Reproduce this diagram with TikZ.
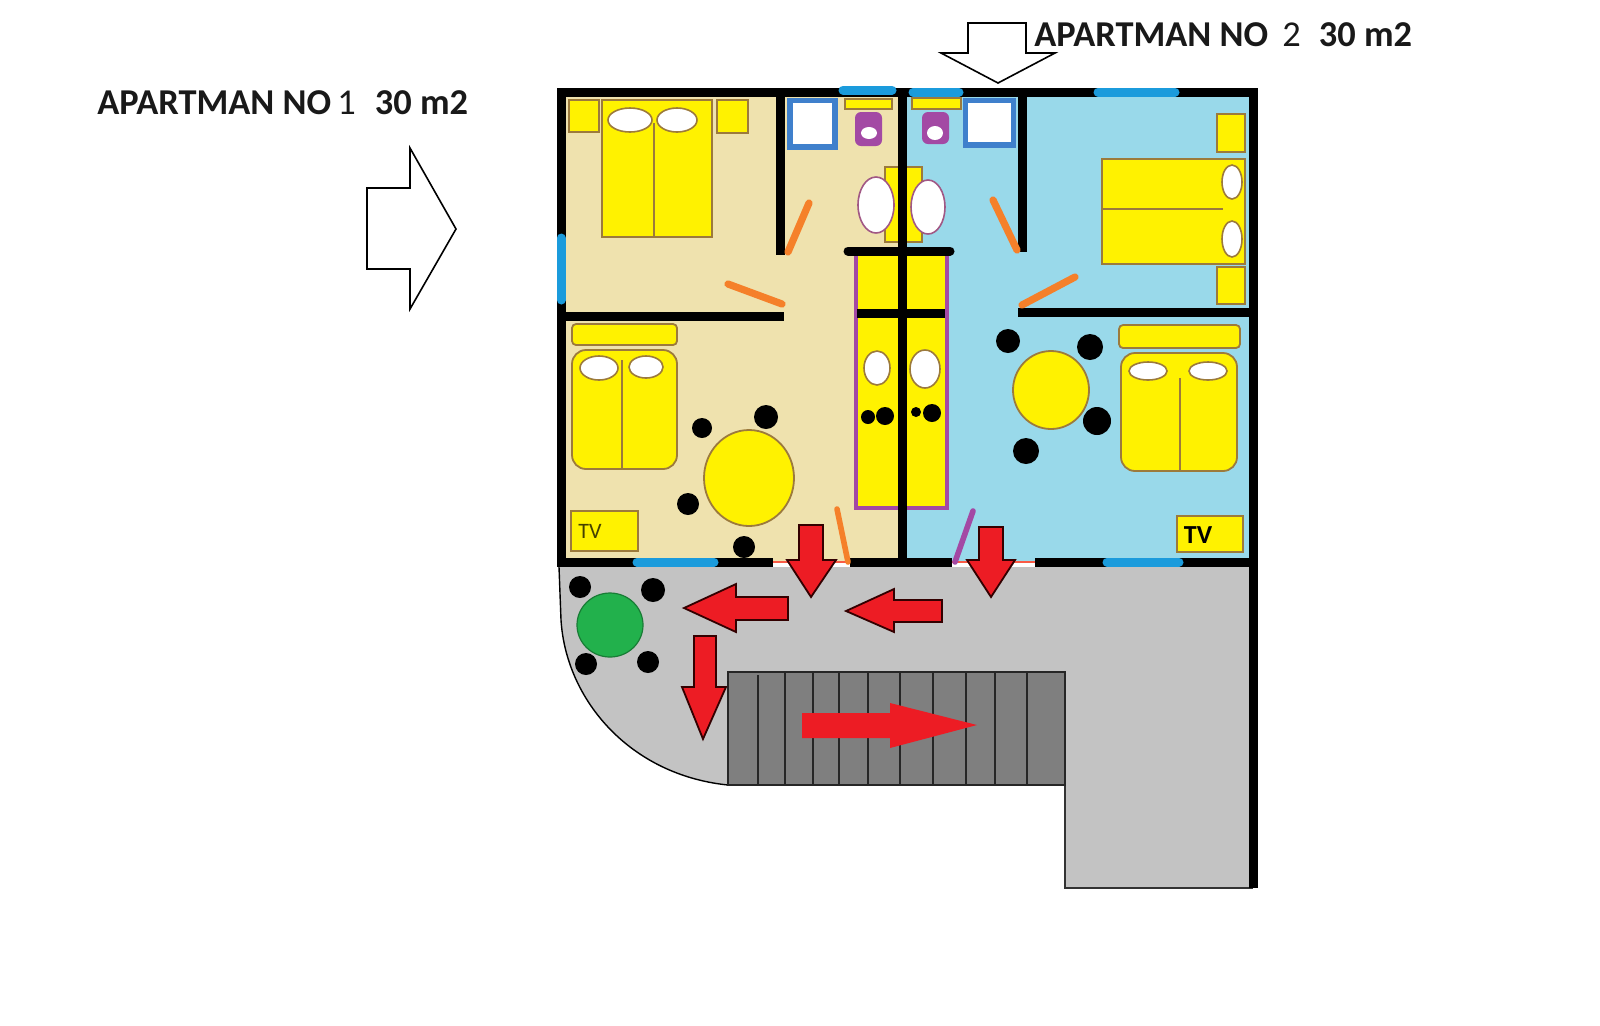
\documentclass[tikz,border=0pt]{standalone}
\usepackage{fontspec}
\setmainfont{Carlito}
\definecolor{floorone}{HTML}{EFE2AE}
\definecolor{floortwo}{HTML}{99D9EA}
\definecolor{bedyellow}{HTML}{FFF200}
\definecolor{trim}{HTML}{9C7A3C}
\definecolor{glass}{HTML}{1B9BDC}
\definecolor{doororange}{HTML}{F5802A}
\definecolor{plum}{HTML}{A349A4}
\definecolor{tilered}{HTML}{ED1C24}
\definecolor{terrace}{HTML}{C3C3C3}
\definecolor{stair}{HTML}{7F7F7F}
\definecolor{shower}{HTML}{3F80CC}
\definecolor{gardentable}{HTML}{22B14C}
\tikzset{
    %Define style for walls
    wall/.style={
           draw=black,
           line width=4.5pt,
           line join=miter},
    glasspane/.style={
           draw=glass,
           line width=4.5pt,
           line cap=round},
    doorleaf/.style={
           draw=doororange,
           line width=3.6pt,
           line cap=round},
    % Define style for furniture
    furniture/.style={
           draw=trim,
           line width=.9pt,
           fill=bedyellow},
    pillow/.style={
           draw=trim,
           line width=.8pt,
           fill=white},
    chair/.style={
           fill=black},
    showerbox/.style={
           draw=shower,
           line width=2.6pt,
           fill=white},
    pan/.style={
           fill=plum,
           rounded corners=3pt},
    % Define arrow styles
    redarrow/.style={
           draw=black!80!red,
           line width=.9pt,
           fill=tilered},
    whitearrow/.style={
           draw=black,
           line width=.8pt,
           fill=white},
    title/.style={
           anchor=base west,
           inner sep=0pt,
           font=\fontsize{18.2}{20}\selectfont\bfseries,
           text=black!90},
}
\begin{document}
\begin{tikzpicture}[x=.5pt,y=-.5pt]
\useasboundingbox (0,0) rectangle (1600,1025);

% floors
\fill[floorone] (561,92) rectangle (902,562);
\fill[floortwo] (902,92) rectangle (1253,562);
\fill[terrace] (559,567) -- (1253,567) -- (1253,888) -- (1065,888) -- (1065,785) -- (728,785)
	.. controls (630,775) and (566,700) .. (561,620) -- cycle;
\draw[black,line width=.7pt] (559,567) -- (561,620) .. controls (566,700) and (630,775) .. (728,785);
\draw[black!80,line width=1pt] (1065,785) -- (1065,888) -- (1253,888);

% stairs
\draw[black!85,line width=1.2pt,fill=stair] (728,672) rectangle (1065,785);
\draw[black!85,line width=.8pt]
	(758,675) -- (758,785)
	(785,672) -- (785,785)
	(813,672) -- (813,785)
	(839,672) -- (839,785)
	(868,672) -- (868,785)
	(900,672) -- (900,785)
	(933,672) -- (933,785)
	(966,672) -- (966,785)
	(995,672) -- (995,785)
	(1027,672) -- (1027,785);

% apartment 1, bedroom
\draw[furniture] (569,100) rectangle (599,132);
\draw[furniture] (602,100) rectangle (712,237);
\draw[furniture] (654,123) -- (654,237);
\draw[furniture] (717,100) rectangle (748,133);
\draw[pillow] (630,120) ellipse [x radius=22,y radius=12];
\draw[pillow] (677,120) ellipse [x radius=20,y radius=12];

% bathrooms
\draw[showerbox] (790,100.5) rectangle (835,147);
\draw[furniture] (845,99) rectangle (892,109);
\fill[pan] (855,112) rectangle (882,146);
\fill[white] (869,133) ellipse [x radius=8,y radius=6];
\draw[showerbox] (965.5,100.5) rectangle (1013.5,145);
\draw[furniture] (912,98) rectangle (961,109);
\fill[pan] (922,112) rectangle (949,144);
\fill[white] (935,133) ellipse [x radius=8,y radius=7];
\draw[furniture] (885,167) rectangle (922,242);
\draw[pillow,draw=plum!70!trim] (876,205) ellipse [x radius=18,y radius=28];
\draw[pillow,draw=plum!70!trim] (928,207) ellipse [x radius=17,y radius=27];

% wardrobe
\draw[furniture,draw=plum,line width=1.6pt] (856,250) -- (856,508) -- (947,508) -- (947,250);
\draw[pillow] (877,368) ellipse [x radius=13,y radius=17];
\draw[pillow] (925,369) ellipse [x radius=15,y radius=19];
\fill[chair] (868,417) circle [radius=7];
\fill[chair] (885,416) circle [radius=9];
\fill[chair] (916,412) circle [radius=5];
\fill[chair] (932,413) circle [radius=9];

% apartment 1, living room
\draw[furniture,rounded corners=2pt] (572,324) rectangle (677,345);
\draw[furniture,rounded corners=7pt] (572,350) rectangle (677,469);
\draw[furniture] (622,360) -- (622,469);
\draw[pillow] (599,368) ellipse [x radius=19,y radius=12];
\draw[pillow] (646,367) ellipse [x radius=17,y radius=11];
\draw[furniture] (749,478) ellipse [x radius=45,y radius=48];
\fill[chair] (702,428) circle [radius=10];
\fill[chair] (766,417) circle [radius=12];
\fill[chair] (688,504) circle [radius=11];
\fill[chair] (744,547) circle [radius=11];
\draw[furniture] (571,511) rectangle (638,551);
\node[inner sep=0pt,text=black!55!bedyellow!60!black,font=\fontsize{11}{12}\selectfont] (tvone) at (590,531) {TV};

% apartment 2, bedroom
\draw[furniture] (1217,114) rectangle (1245,152);
\draw[furniture] (1102,159) rectangle (1245,264);
\draw[furniture] (1102,209) -- (1223,209);
\draw[furniture] (1217,267) rectangle (1245,304);
\draw[pillow] (1232,182) ellipse [x radius=10,y radius=17];
\draw[pillow] (1232,239) ellipse [x radius=10,y radius=18];

% apartment 2, living room
\draw[furniture,rounded corners=2pt] (1119,325) rectangle (1240,348);
\draw[furniture,rounded corners=7pt] (1121,353) rectangle (1237,471);
\draw[furniture] (1180,378) -- (1180,471);
\draw[pillow] (1148,371) ellipse [x radius=19,y radius=9];
\draw[pillow] (1208,371) ellipse [x radius=19,y radius=9];
\draw[furniture] (1051,390) ellipse [x radius=38,y radius=39];
\fill[chair] (1008,341) circle [radius=12];
\fill[chair] (1090,347) circle [radius=13];
\fill[chair] (1097,421) circle [radius=14];
\fill[chair] (1026,451) circle [radius=13];
\draw[furniture] (1177,516) rectangle (1243,552);
\node[inner sep=0pt,font=\fontsize{13}{14}\selectfont\bfseries] (tvtwo) at (1198,535) {TV};

% garden table
\draw[black!30!gardentable,line width=.6pt,fill=gardentable] (610,625) ellipse [x radius=33,y radius=32];
\fill[chair] (580,587) circle [radius=11];
\fill[chair] (653,590) circle [radius=12];
\fill[chair] (586,664) circle [radius=11];
\fill[chair] (648,662) circle [radius=11];

% door sills
\draw[red!60!floorone,line width=.8pt] (773,562) -- (850,562) (952,562) -- (1035,562);

% walls
\draw[wall] (773,562) -- (561,562) -- (561,92) -- (1253,92) -- (1253,888);
\draw[wall] (850,562) -- (952,562);
\draw[wall] (1035,562) -- (1253,562);
\draw[wall] (902,92) -- (902,562);
\draw[wall] (780,92) -- (780,255);
\draw[wall] (561,316) -- (784,316);
\draw[wall,line cap=round] (848,251) -- (950,251);
\draw[wall] (857,313) -- (945,313);
\draw[wall] (1022,92) -- (1022,252);
\draw[wall] (1018,312) -- (1253,312);

% windows
\draw[glasspane] (843,90) -- (892,90);
\draw[glasspane] (913,92) -- (959,92);
\draw[glasspane] (1098,92) -- (1175,92);
\draw[glasspane] (561,238) -- (561,300);
\draw[glasspane] (637,562) -- (714,562);
\draw[glasspane] (1107,562) -- (1179,562);

% doors
\draw[doorleaf] (788,252) -- (809,203);
\draw[doorleaf] (728,284) -- (782,304);
\draw[doorleaf] (1017,250) -- (993,200);
\draw[doorleaf] (1022,305) -- (1075,277);
\draw[doorleaf,line width=2.8pt] (837,509) -- (848,562);
\draw[doorleaf,draw=plum,line width=2.8pt] (973,511) -- (955,562);

% way out
\draw[redarrow] (799,525) -- (823,525) -- (823,560) -- (836,560) -- (811,597) -- (787,560) -- (799,560) -- cycle;
\draw[redarrow] (979,527) -- (1003,527) -- (1003,560) -- (1015,560) -- (991,597) -- (967,560) -- (979,560) -- cycle;
\draw[redarrow] (788,597) -- (736,597) -- (736,584) -- (684,608) -- (736,632) -- (736,620) -- (788,620) -- cycle;
\draw[redarrow] (942,600) -- (894,600) -- (894,589) -- (846,611) -- (894,632) -- (894,622) -- (942,622) -- cycle;
\draw[redarrow] (694,636) -- (716,636) -- (716,687) -- (726,687) -- (703,739) -- (682,687) -- (694,687) -- cycle;
\fill[tilered] (802,713) -- (890,713) -- (890,703) -- (977,725) -- (890,748) -- (890,738) -- (802,738) -- cycle;

% entrance arrows
\draw[whitearrow] (367,188) -- (410,188) -- (410,148) -- (456,229) -- (410,309) -- (410,269) -- (367,269) -- cycle;
\draw[whitearrow] (968,23) -- (1026,23) -- (1026,53) -- (1055,53) -- (998,83) -- (941,53) -- (968,53) -- cycle;

% titles
\node[title] (aptone) at (97,114) {APARTMAN NO\,{\mdseries 1}\hspace{.3em} 30 m2};
\node[title] (apttwo) at (1034,46) {APARTMAN NO\hspace{.39em}{\mdseries 2}\hspace{.27em} 30 m2};
\end{tikzpicture}
\end{document}
